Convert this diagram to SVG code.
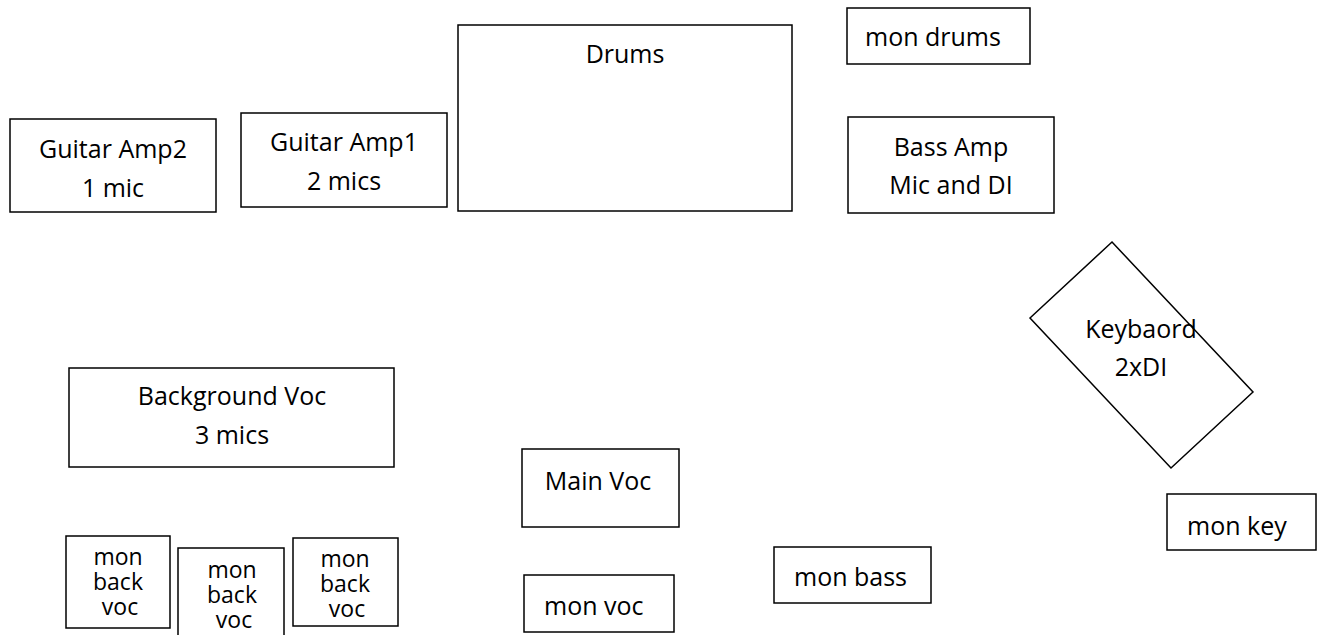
<svg xmlns="http://www.w3.org/2000/svg" width="1323" height="635" viewBox="0 0 1323 635">
<style>
.box{fill:#fff;stroke:#000;stroke-width:1.5}
text{font-family:"Open Sans","Liberation Sans",sans-serif;font-size:25px;fill:#000}
.c{text-anchor:middle}
.s{font-size:23px}
</style>
<rect width="1323" height="635" fill="#fff"/>
<g id="connectors"></g>
<g id="guitar-amp2"><rect class="box" x="10" y="119" width="206" height="93"/><text class="c" x="113" y="158">Guitar Amp2</text><text class="c" x="113" y="197">1 mic</text></g>
<g id="guitar-amp1"><rect class="box" x="241" y="113" width="206" height="94"/><text class="c" x="344" y="151">Guitar Amp1</text><text class="c" x="344" y="190">2 mics</text></g>
<g id="drums"><rect class="box" x="458" y="25" width="334" height="186"/><text class="c" x="625" y="63">Drums</text></g>
<g id="mon-drums"><rect class="box" x="847" y="8" width="183" height="56"/><text x="865" y="46">mon drums</text></g>
<g id="bass-amp"><rect class="box" x="848" y="117" width="206" height="96"/><text class="c" x="951" y="156">Bass Amp</text><text class="c" x="951" y="194">Mic and DI</text></g>
<g id="keyboard"><polygon class="box" points="1112,242 1253,392 1171,468 1030,318"/><text class="c" x="1141" y="338">Keybaord</text><text class="c" x="1141" y="376">2xDI</text></g>
<g id="background-voc"><rect class="box" x="69" y="368" width="325" height="99"/><text class="c" x="232" y="405">Background Voc</text><text class="c" x="232" y="444">3 mics</text></g>
<g id="main-voc"><rect class="box" x="522" y="449" width="157" height="78"/><text class="c" x="598" y="490">Main Voc</text></g>
<g id="mon-voc"><rect class="box" x="524" y="575" width="150" height="57"/><text x="544" y="615">mon voc</text></g>
<g id="mon-bass"><rect class="box" x="774" y="547" width="157" height="56"/><text x="794" y="586">mon bass</text></g>
<g id="mon-key"><rect class="box" x="1167" y="494" width="149" height="56"/><text x="1187" y="535">mon key</text></g>
<g id="mon-back-voc-1"><rect class="box" x="66" y="536" width="104" height="92"/><text class="c s" x="118" y="565">mon</text><text class="c s" x="118" y="590">back</text><text class="c s" x="120" y="615">voc</text></g>
<g id="mon-back-voc-2"><rect class="box" x="178" y="548" width="106" height="90"/><text class="c s" x="232" y="578">mon</text><text class="c s" x="232" y="603">back</text><text class="c s" x="234" y="628">voc</text></g>
<g id="mon-back-voc-3"><rect class="box" x="293" y="538" width="105" height="88"/><text class="c s" x="345" y="567">mon</text><text class="c s" x="345" y="592">back</text><text class="c s" x="347" y="617">voc</text></g>
</svg>
